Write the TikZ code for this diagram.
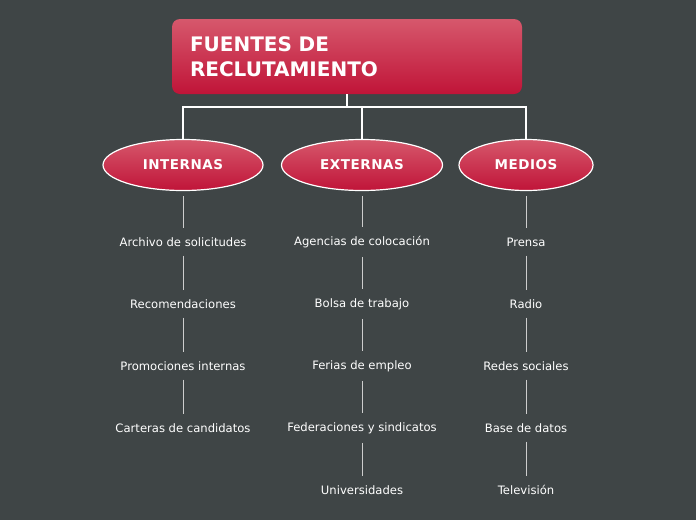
\documentclass[tikz,border=0pt]{standalone}
\usepackage{fontspec}
\setmainfont{DejaVu Sans}
\usetikzlibrary{positioning,shapes.geometric}
\definecolor{fondo}{RGB}{63,69,70}
\definecolor{rojoA}{RGB}{214,88,108}
\definecolor{rojoB}{RGB}{192,20,56}
\definecolor{gris}{RGB}{205,205,205}
\begin{document}
\begin{tikzpicture}[x=1pt, y=-1pt, node distance=62pt,
  raiz/.style = {rounded corners=8pt, top color=rojoA, bottom color=rojoB, draw=none,
    minimum width=350pt, minimum height=75pt, text width=314pt, inner xsep=18pt,
    align=left, text=white, font=\fontsize{20}{25}\selectfont\bfseries},
  rama/.style = {ellipse, draw=white, line width=1.2pt, top color=rojoA, bottom color=rojoB,
    minimum height=51pt, inner sep=0pt, text=white,
    font=\fontsize{13.5}{15}\selectfont\bfseries\addfontfeatures{LetterSpace=4}},
  hoja/.style = {text=white, inner xsep=2pt, inner ysep=9pt, font=\fontsize{11.6}{13}\selectfont},
  tronco/.style = {draw=white, line width=1.6pt},
  enlace/.style = {draw=gris, line width=0.9pt}]
\fill[fondo] (0,0) rectangle (696,520);
\useasboundingbox (0,0) rectangle (696,520);
\node[raiz] (raiz) at (347,56.5) {FUENTES DE\\RECLUTAMIENTO};
\node[rama, minimum width=160pt] (int) at (183,165) {INTERNAS};
\node[rama, minimum width=161pt] (ext) at (362,165) {EXTERNAS};
\node[rama, minimum width=134pt] (med) at (526,165) {MEDIOS};
\coordinate (j) at (347,107);
\draw[tronco] (raiz.south) -- (j);
\draw[tronco] (int.north) |- (j);
\draw[tronco] (ext.north) |- (j);
\draw[tronco] (med.north) |- (j);
% internas
\node[hoja] (i1) at (183,242) {Archivo de solicitudes};
\node[hoja] (i2) [below of=i1] {Recomendaciones};
\node[hoja] (i3) [below of=i2] {Promociones internas};
\node[hoja] (i4) [below of=i3] {Carteras de candidatos};
% externas
\node[hoja] (e1) at (362,242) {Agencias de colocación};
\node[hoja] (e2) [below of=e1] {Bolsa de trabajo};
\node[hoja] (e3) [below of=e2] {Ferias de empleo};
\node[hoja] (e4) [below of=e3] {Federaciones y sindicatos};
\node[hoja] (e5) [below of=e4] {Universidades};
% medios
\node[hoja] (m1) at (526,242) {Prensa};
\node[hoja] (m2) [below of=m1] {Radio};
\node[hoja] (m3) [below of=m2] {Redes sociales};
\node[hoja] (m4) [below of=m3] {Base de datos};
\node[hoja] (m5) [below of=m4] {Televisión};
\draw[enlace, shorten <=5pt] (int) -- (i1);
\draw[enlace] (i1) -- (i2);
\draw[enlace] (i2) -- (i3);
\draw[enlace] (i3) -- (i4);
\draw[enlace, shorten <=5pt] (ext) -- (e1);
\draw[enlace] (e1) -- (e2);
\draw[enlace] (e2) -- (e3);
\draw[enlace] (e3) -- (e4);
\draw[enlace] (e4) -- (e5);
\draw[enlace, shorten <=5pt] (med) -- (m1);
\draw[enlace] (m1) -- (m2);
\draw[enlace] (m2) -- (m3);
\draw[enlace] (m3) -- (m4);
\draw[enlace] (m4) -- (m5);
\end{tikzpicture}
\end{document}
